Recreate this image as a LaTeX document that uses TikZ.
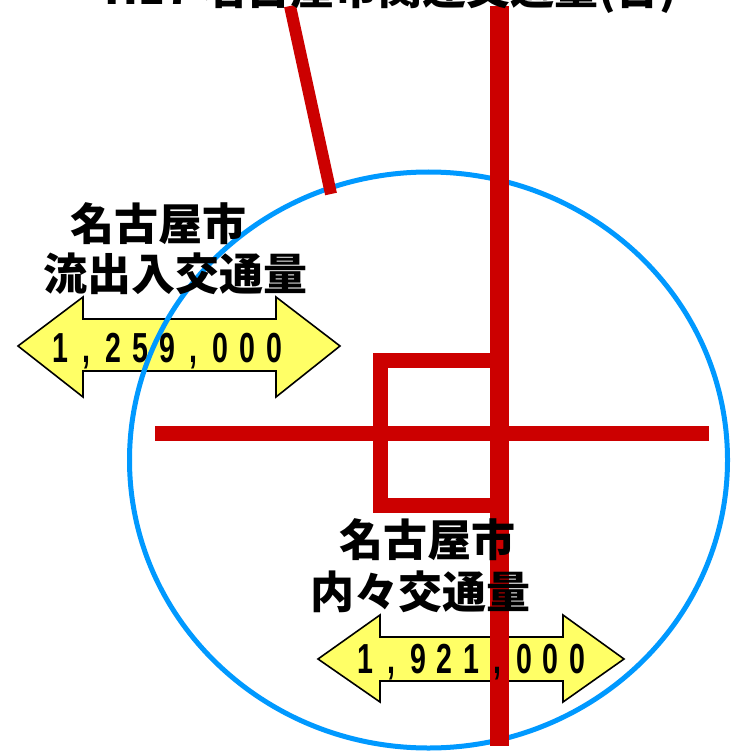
\documentclass[tikz,border=0pt]{standalone}
\usepackage{fontspec}
\usepackage{graphicx}
\newfontfamily\cjk{Noto Sans CJK JP}
\newfontfamily\numfont{Liberation Sans}
\definecolor{roadred}{HTML}{CC0000}
\definecolor{ringblue}{HTML}{0099FF}
\definecolor{arrowyellow}{HTML}{FFFF66}
\tikzset{
  road/.style={draw=roadred, line cap=butt, line join=miter},
  ring/.style={draw=ringblue, line width=5pt},
  arrowbox/.style={draw=black, fill=arrowyellow, line width=1.6pt, line join=miter},
  lbl/.style={font=\cjk\bfseries\fontsize{44}{44}\selectfont, inner sep=0pt, text=black},
  titletext/.style={font=\cjk\bfseries\fontsize{44}{44}\selectfont, inner sep=0pt, anchor=base},
  numchar/.style={font=\numfont\bfseries\fontsize{42}{42}\selectfont, inner sep=0pt, anchor=base}
}
\begin{document}
\begin{tikzpicture}[x=1pt,y=-1pt]
\useasboundingbox (0,0) rectangle (738,751);
\clip (0,0) rectangle (738,751);
\fill[white] (0,0) rectangle (738,751);
% yellow double arrows
\draw[arrowbox] (18,346) -- (83,297) -- (83,319) -- (276,319) -- (276,297) -- (340,346)
  -- (276,397) -- (276,371) -- (83,371) -- (83,397) -- cycle;
\draw[arrowbox] (318,659) -- (380,615) -- (380,637) -- (563,637) -- (563,615) -- (624,659)
  -- (563,702) -- (563,681) -- (380,681) -- (380,702) -- cycle;
% city ring
\draw[ring] (428.5,460) ellipse [x radius=299, y radius=288];
% roads
\draw[road, line width=12pt] (290,6) -- (331,194);
\draw[road, line width=19pt] (499.5,6) -- (499.5,746);
\draw[road, line width=15pt] (155,433.5) -- (709,433.5);
\draw[road, line width=15pt] (507,360.5) -- (380.5,360.5) -- (380.5,505.5) -- (507,505.5);
% labels
\node[lbl] (city1) at (158,224) {名古屋市};
\node[lbl] (flow1) at (175,274) {流出入交通量};
\node[lbl] (city2) at (427,540) {名古屋市};
\node[lbl] (flow2) at (420,592) {内々交通量};
\node[titletext] (title) at (391,5) {H17 名古屋市関連交通量(台)};
% numbers
\def\comma{,}
\foreach \c [count=\i from 0] in {1,\comma,2,5,9,\comma,0,0,0}
  \node[numchar] (na\i) at ({60+\i*26.75},362) {\scalebox{0.68}[1]{\c}};
\foreach \c [count=\i from 0] in {1,\comma,9,2,1,\comma,0,0,0}
  \node[numchar] (nb\i) at ({365+\i*26.5},673.5) {\scalebox{0.68}[1]{\c}};
\end{tikzpicture}
\end{document}
